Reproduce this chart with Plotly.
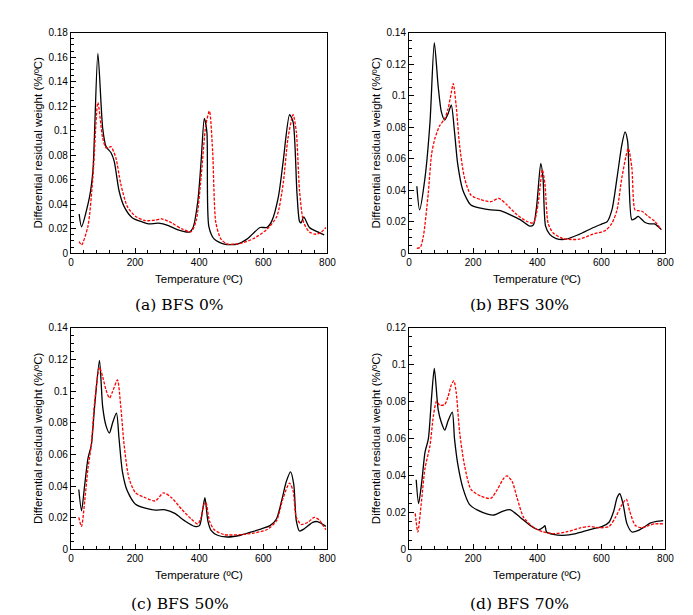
import plotly.graph_objects as go

# ---------------- data ----------------
# Panel (a) BFS 0%
a_black_T = [25.6, 33, 58, 68.5, 84, 99, 109.5, 125, 135, 150, 166, 191, 222, 242, 273, 304, 334, 370, 381, 396, 406, 416, 424, 430, 447, 478, 519, 549, 590, 611, 626, 647, 662, 682, 693, 705, 713, 718, 726, 744, 764, 790]
a_black_v = [0.032, 0.0216, 0.046, 0.067, 0.163, 0.102, 0.087, 0.082, 0.075, 0.051, 0.038, 0.029, 0.0256, 0.024, 0.0245, 0.0226, 0.019, 0.0173, 0.021, 0.043, 0.075, 0.110, 0.099, 0.022, 0.0115, 0.0075, 0.0075, 0.0115, 0.021, 0.021, 0.026, 0.046, 0.075, 0.113, 0.107, 0.049, 0.026, 0.0248, 0.0296, 0.021, 0.018, 0.015]
a_red_T = [25.6, 33, 53, 68.5, 84, 99, 109.5, 120, 125, 140, 155, 176, 202, 232, 263, 283, 314, 345, 375, 391, 406, 421, 432, 442, 452, 468, 488, 529, 570, 611, 642, 662, 677, 693, 703, 713, 726, 744, 764, 780, 795]
a_red_v = [0.0096, 0.0067, 0.022, 0.062, 0.123, 0.094, 0.086, 0.0865, 0.087, 0.078, 0.057, 0.038, 0.030, 0.0266, 0.027, 0.028, 0.0248, 0.020, 0.0176, 0.027, 0.062, 0.105, 0.116, 0.083, 0.025, 0.0115, 0.0075, 0.008, 0.012, 0.0195, 0.030, 0.057, 0.094, 0.113, 0.099, 0.051, 0.025, 0.0173, 0.0155, 0.017, 0.021]

# Panel (b) BFS 30%
b_black_T = [24.5, 33, 50, 65.5, 79, 91, 101, 111.5, 122, 132, 142, 152, 168, 193, 224, 255, 285, 316, 347, 377, 388, 398, 411, 418, 426, 439, 459, 490, 531, 572, 602, 618, 633, 649, 664, 674, 682, 695, 705, 715, 735, 751, 766, 787]
b_black_v = [0.0425, 0.0275, 0.048, 0.083, 0.1336, 0.106, 0.0897, 0.0845, 0.0886, 0.094, 0.077, 0.0565, 0.040, 0.0306, 0.0286, 0.0275, 0.027, 0.0244, 0.0213, 0.0172, 0.018, 0.0296, 0.057, 0.048, 0.0172, 0.012, 0.0093, 0.0089, 0.012, 0.016, 0.0186, 0.020, 0.0275, 0.048, 0.069, 0.077, 0.071, 0.0213, 0.022, 0.0234, 0.0197, 0.0186, 0.0186, 0.015]
b_red_T = [24.5, 35, 45, 60, 70.6, 81, 96, 111.5, 122, 132, 138, 147, 157.5, 173, 193, 224, 255, 280, 306, 337, 367, 388, 403, 416, 424, 434, 449, 480, 531, 572, 613, 633, 649, 664, 684, 695, 705, 715, 728, 746, 766, 787]
b_red_v = [0.0031, 0.0037, 0.011, 0.038, 0.063, 0.073, 0.081, 0.0855, 0.0917, 0.102, 0.1077, 0.094, 0.069, 0.048, 0.037, 0.034, 0.0327, 0.0348, 0.0306, 0.0244, 0.0203, 0.0193, 0.0317, 0.053, 0.044, 0.019, 0.013, 0.0093, 0.0089, 0.012, 0.0145, 0.019, 0.0275, 0.048, 0.0665, 0.0545, 0.0275, 0.027, 0.0265, 0.0234, 0.0203, 0.015]

# Panel (c) BFS 50%
c_black_T = [24.5, 33, 43, 53, 63.4, 73.7, 89, 99, 109.5, 120, 130, 142, 150, 160.6, 176, 201.5, 232, 263, 294, 324, 355, 386, 401, 411, 418, 427, 437, 457, 488, 529, 570, 600.5, 621, 641, 657, 672, 685, 695, 703, 713, 728, 754, 769, 795]
c_black_v = [0.0378, 0.0244, 0.041, 0.0574, 0.0657, 0.090, 0.1193, 0.090, 0.078, 0.0735, 0.080, 0.086, 0.070, 0.049, 0.0368, 0.0285, 0.026, 0.0248, 0.025, 0.0227, 0.018, 0.0145, 0.015, 0.0254, 0.0326, 0.018, 0.012, 0.0089, 0.0078, 0.0089, 0.0114, 0.0134, 0.015, 0.0192, 0.0306, 0.043, 0.049, 0.041, 0.018, 0.0116, 0.013, 0.0171, 0.0175, 0.0145]
c_red_T = [24.5, 33, 43, 53, 63.4, 73.7, 89, 99, 109.5, 120, 130, 145, 155.5, 166, 181, 201.5, 232, 263, 288.5, 314, 345, 375, 396, 406, 416, 421, 432, 447, 478, 529, 570, 611, 641, 662, 682, 693, 703, 718.5, 739, 759, 774, 795]
c_red_v = [0.0202, 0.0145, 0.0306, 0.051, 0.0657, 0.0925, 0.115, 0.109, 0.1007, 0.0956, 0.0997, 0.107, 0.090, 0.0657, 0.045, 0.0357, 0.0326, 0.0306, 0.0357, 0.0326, 0.0254, 0.0192, 0.016, 0.0202, 0.029, 0.0295, 0.018, 0.0124, 0.0093, 0.0093, 0.0103, 0.0124, 0.018, 0.0326, 0.0419, 0.0368, 0.0202, 0.0157, 0.0171, 0.0202, 0.0186, 0.0124]

# Panel (d) BFS 70%
d_black_T = [22.5, 30, 40, 50, 60.4, 70.7, 79, 91, 101, 111.6, 122, 135, 142, 152.6, 168, 188.5, 214, 245, 265, 296, 316.5, 347, 378, 403.6, 419, 424, 429, 450, 480, 521, 562, 603, 624, 639, 649, 657.6, 668, 680, 695.5, 716, 736.5, 752, 772, 793]
d_black_v = [0.0377, 0.0248, 0.0368, 0.0527, 0.0598, 0.083, 0.098, 0.0757, 0.0687, 0.0646, 0.0696, 0.0743, 0.0598, 0.0457, 0.0333, 0.0244, 0.0212, 0.0191, 0.0186, 0.0209, 0.0214, 0.0173, 0.0129, 0.0106, 0.012, 0.0129, 0.0094, 0.0081, 0.0076, 0.0085, 0.0106, 0.0124, 0.0147, 0.0209, 0.028, 0.0301, 0.0244, 0.0138, 0.0094, 0.0103, 0.0124, 0.0142, 0.0152, 0.0156]
d_red_T = [19.5, 27.6, 38, 50, 65.6, 76, 86, 96, 111.6, 122, 132, 140, 147.5, 158, 173, 193.6, 224, 255, 275.5, 296, 306, 321.6, 337, 357.5, 388, 419, 450, 491, 532, 562, 593, 624, 644, 665, 678, 688, 706, 726, 747, 767, 793]
d_red_v = [0.0195, 0.0094, 0.0244, 0.0439, 0.0563, 0.0722, 0.0802, 0.078, 0.0784, 0.0828, 0.089, 0.0913, 0.0846, 0.0634, 0.0457, 0.0324, 0.0288, 0.0276, 0.0324, 0.0386, 0.0398, 0.0368, 0.028, 0.0173, 0.012, 0.0094, 0.0085, 0.0094, 0.0115, 0.0124, 0.0117, 0.0124, 0.0173, 0.0244, 0.0271, 0.0209, 0.0129, 0.0117, 0.0129, 0.0138, 0.0138]

x_ticks = [0, 200, 400, 600, 800]
x_ticktext = ["0", "200", "400", "600", "800"]
y_ticks_a = [0, 0.02, 0.04, 0.06, 0.08, 0.1, 0.12, 0.14, 0.16, 0.18]
y_ticktext_a = ["0", "0.02", "0.04", "0.06", "0.08", "0.1", "0.12", "0.14", "0.16", "0.18"]
y_ticks_bc = [0, 0.02, 0.04, 0.06, 0.08, 0.1, 0.12, 0.14]
y_ticktext_bc = ["0", "0.02", "0.04", "0.06", "0.08", "0.1", "0.12", "0.14"]
y_ticks_d = [0, 0.02, 0.04, 0.06, 0.08, 0.1, 0.12]
y_ticktext_d = ["0", "0.02", "0.04", "0.06", "0.08", "0.1", "0.12"]
y_max = [0.18, 0.14, 0.14, 0.12]

captions = ["(a) BFS 0%", "(b) BFS 30%", "(c) BFS 50%", "(d) BFS 70%"]
x_title = "Temperature (ºC)"
y_title = "Differential residual weight (%/ºC)"

panels = [
    (a_black_T, a_black_v, a_red_T, a_red_v, y_ticks_a, y_ticktext_a),
    (b_black_T, b_black_v, b_red_T, b_red_v, y_ticks_bc, y_ticktext_bc),
    (c_black_T, c_black_v, c_red_T, c_red_v, y_ticks_bc, y_ticktext_bc),
    (d_black_T, d_black_v, d_red_T, d_red_v, y_ticks_d, y_ticktext_d),
]

# ---------------- layout geometry (pixels) ----------------
W, H = 693, 615
px_x = [(61, 322), (405, 666), (61, 322), (405, 666)]
px_y = [(19, 244), (19, 244), (320, 546), (320, 546)]
cap_xy = [(171, 297), (517, 297), (172, 602), (517, 602)]
ytitle_x = [27, 371, 27, 371]
xtitle_y = [270, 270, 572, 572]

fig = go.Figure()
layout = dict(
    width=W, height=H,
    margin=dict(l=0, r=0, t=0, b=0),
    paper_bgcolor="white", plot_bgcolor="white",
    showlegend=False,
    font=dict(family="Liberation Sans, Arial, sans-serif", color="black", size=10),
)
annotations = []

for i, (bt, bv, rt, rv, yt, ytt) in enumerate(panels):
    n = "" if i == 0 else str(i + 1)
    xa, ya = "x" + n, "y" + n
    fig.add_trace(go.Scatter(x=bt, y=bv, xaxis=xa, yaxis=ya, mode="lines",
                             line=dict(color="black", width=1.3, shape="spline", smoothing=0.7),
                             hoverinfo="skip"))
    fig.add_trace(go.Scatter(x=rt, y=rv, xaxis=xa, yaxis=ya, mode="lines",
                             line=dict(color="#ff0000", width=1.3, dash="3px,1.5px", shape="spline", smoothing=0.7),
                             hoverinfo="skip"))
    x0, x1 = px_x[i]
    y0, y1 = px_y[i]
    layout["xaxis" + n] = dict(
        domain=[x0 / W, x1 / W], anchor=ya, range=[0, 800],
        tickvals=x_ticks, ticktext=x_ticktext,
        ticks="inside", ticklen=5, tickcolor="black", tickwidth=1,
        minor=dict(ticks="inside", ticklen=3, dtick=40, tickcolor="black", tickwidth=1, showgrid=False),
        showline=True, linecolor="black", linewidth=1, mirror=True,
        showgrid=False, zeroline=False,
        tickfont=dict(size=10),
    )
    layout["yaxis" + n] = dict(
        domain=[1 - y1 / H, 1 - y0 / H], anchor=xa, range=[0, y_max[i]],
        tickvals=yt, ticktext=ytt,
        ticks="inside", ticklen=5, tickcolor="black", tickwidth=1,
        minor=dict(ticks="inside", ticklen=3, dtick=0.005, tickcolor="black", tickwidth=1, showgrid=False),
        showline=True, linecolor="black", linewidth=1, mirror=True,
        showgrid=False, zeroline=False,
        tickfont=dict(size=10),
    )
    # axis titles
    annotations.append(dict(
        text=x_title, xref="paper", yref="paper", x=((x0 + x1) / 2) / W, y=1 - xtitle_y[i] / H,
        xanchor="center", yanchor="middle", showarrow=False, font=dict(size=11.5),
    ))
    annotations.append(dict(
        text=y_title, xref="paper", yref="paper", x=ytitle_x[i] / W, y=1 - ((y0 + y1) / 2) / H,
        xanchor="center", yanchor="middle", showarrow=False, textangle=-90, font=dict(size=11.5),
    ))
    cx, cy = cap_xy[i]
    annotations.append(dict(
        text=captions[i], xref="paper", yref="paper", x=cx / W, y=1 - cy / H,
        xanchor="center", yanchor="middle", showarrow=False,
        font=dict(family="DejaVu Serif, Liberation Serif, serif", size=15.5, color="black"),
    ))

layout["annotations"] = annotations
fig.update_layout(**layout)
fig.write_html("out.html")
